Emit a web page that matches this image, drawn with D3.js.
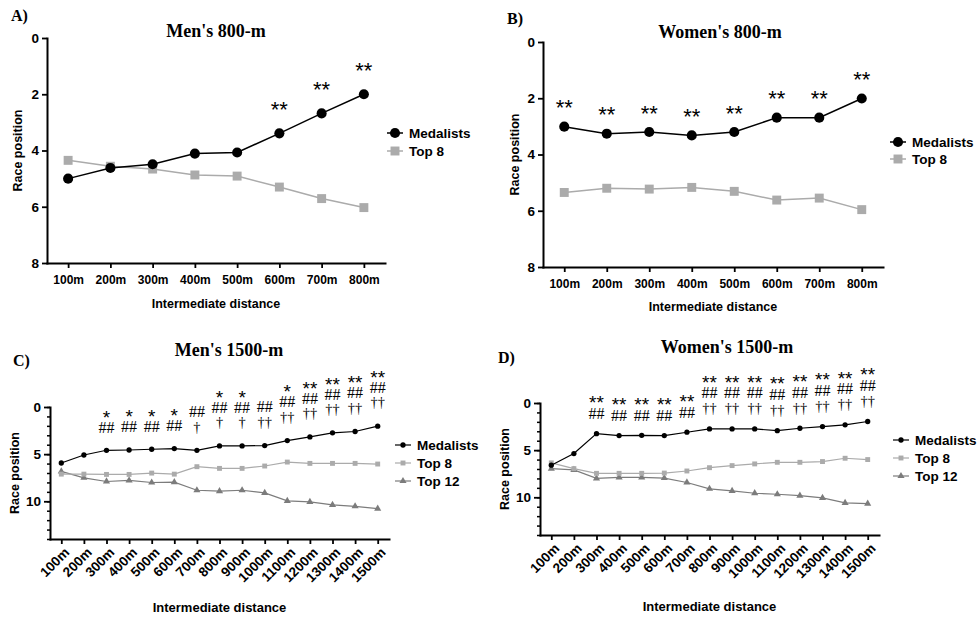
<!DOCTYPE html>
<html><head><meta charset="utf-8">
<script src="https://cdn.jsdelivr.net/npm/d3@7"></script>
<style>body{margin:0;background:#fff} svg{display:block}</style>
</head><body><svg id="c" width="980" height="620"></svg>
<script>
// ---------------- DATA ----------------
const dist800 = ["100m","200m","300m","400m","500m","600m","700m","800m"];
const dist1500 = ["100m","200m","300m","400m","500m","600m","700m","800m","900m","1000m","1100m","1200m","1300m","1400m","1500m"];
const seriesNames = ["Medalists","Top 8","Top 12"];

const men800Medal  = [5.00,4.62,4.49,4.11,4.07,3.39,2.68,2.00];
const men800Top8   = [4.35,4.56,4.66,4.87,4.91,5.30,5.71,6.03];
const women800Medal = [3.01,3.26,3.20,3.32,3.20,2.69,2.69,2.01];
const women800Top8  = [5.35,5.20,5.23,5.17,5.31,5.62,5.55,5.96];

const men1500Medal = [5.94,5.09,4.59,4.56,4.48,4.41,4.59,4.13,4.13,4.09,3.56,3.17,2.74,2.60,2.03];
const men1500Top8  = [7.12,7.12,7.15,7.15,7.01,7.12,6.33,6.51,6.51,6.26,5.84,5.98,5.98,5.98,6.05];
const men1500Top12 = [6.83,7.51,7.90,7.79,8.01,7.97,8.83,8.93,8.83,9.11,9.96,10.07,10.39,10.53,10.78];
const women1500Medal = [6.60,5.36,3.25,3.46,3.43,3.46,3.10,2.75,2.75,2.75,2.93,2.68,2.50,2.32,1.96];
const women1500Top8  = [6.35,6.96,7.46,7.46,7.46,7.43,7.21,6.86,6.64,6.46,6.29,6.29,6.21,5.86,6.00];
const women1500Top12 = [6.96,7.10,8.00,7.89,7.89,7.96,8.43,9.10,9.32,9.57,9.68,9.82,10.07,10.60,10.68];

const men800Stars   = ["","","","","","**","**","**"];
const women800Stars = ["**","**","**","**","**","**","**","**"];
const men1500Stars  = ["","","*","*","*","*","","*","*","","*","**","**","**","**"];
const men1500Hash   = ["","","##","##","##","##","##","##","##","##","##","##","##","##","##"];
const men1500Dagger = ["","","","","","","†","†","†","††","††","††","††","††","††"];
const women1500Stars  = ["","","**","**","**","**","**","**","**","**","**","**","**","**","**"];
const women1500Hash   = ["","","##","##","##","##","##","##","##","##","##","##","##","##","##"];
const women1500Dagger = ["","","","","","","","††","††","††","††","††","††","††","††"];

const ticks800Y = [0,2,4,6,8];
const ticks1500Y = [0,5,10];

// ---------------- DRAW ----------------
const svg = d3.select("#c");
const SANS = "'Liberation Sans', Arial, sans-serif";
const SERIF = "'Liberation Serif', 'Times New Roman', serif";
const BLACK = "#000", LIGHT = "#ababab", DARK = "#7c7c7c";

function panel(o){
  const g = svg.append("g");
  const x = d3.scalePoint().domain(o.cats).range([o.x0, o.x1]).padding(0.5);
  const y = d3.scaleLinear().domain([0, o.ymax]).range([o.y0, o.y1]);

  if (o.minor) {
    const m = g.append("g").attr("transform", `translate(${o.x0},0)`)
      .call(d3.axisLeft(y).tickValues(d3.range(0, o.ymax + 1)).tickSize(3).tickFormat(""));
    m.select(".domain").remove();
    m.selectAll("line").attr("stroke", "#000").attr("stroke-width", 1.5);
  }
  const ya = g.append("g").attr("transform", `translate(${o.x0},0)`)
    .call(d3.axisLeft(y).tickValues(o.yticks).tickSize(o.minor ? 6 : 5).tickSizeOuter(0).tickPadding(3));
  ya.select(".domain").attr("stroke-width", 2).attr("stroke-linecap", "square");
  ya.selectAll("line").attr("stroke-width", 1.8);
  ya.selectAll("text").attr("font-family", SANS).attr("font-weight", "bold").attr("font-size", 13.5).attr("fill", "#000");

  const xa = g.append("g").attr("transform", `translate(0,${o.y1})`)
    .call(d3.axisBottom(x).tickSize(5).tickSizeOuter(0).tickPadding(5));
  xa.select(".domain").attr("stroke-width", 2).attr("stroke-linecap", "square");
  xa.selectAll("line").attr("stroke-width", 1.8);
  xa.selectAll("text").attr("font-family", SANS).attr("font-weight", "bold").attr("font-size", o.xtickSize).attr("fill", "#000");
  if (o.rotate) {
    xa.selectAll("text").attr("text-anchor", "end").attr("dy", "0.35em").attr("y", 0).attr("x", 0)
      .attr("transform", "translate(5,11) rotate(-45)");
  } else {
    xa.selectAll("text").attr("dy", "0.95em");
  }

  g.append("text").attr("x", o.titleX).attr("y", o.titleY).attr("text-anchor", "middle")
    .attr("font-family", SERIF).attr("font-weight", "bold").attr("font-size", 18).text(o.title);
  g.append("text").attr("x", o.letterX).attr("y", o.letterY)
    .attr("font-family", SERIF).attr("font-weight", "bold").attr("font-size", 16).text(o.letter);
  g.append("text").attr("transform", `translate(${o.ylabX},${(o.y0 + o.y1) / 2}) rotate(-90)`)
    .attr("text-anchor", "middle").attr("font-family", SANS).attr("font-weight", "bold").attr("font-size", 12.5)
    .text("Race position");
  g.append("text").attr("x", (o.x0 + o.x1) / 2).attr("y", o.xlabY).attr("text-anchor", "middle")
    .attr("font-family", SANS).attr("font-weight", "bold").attr("font-size", o.xlabSize)
    .text("Intermediate distance");

  const styles = [
    {color: BLACK, sym: d3.symbolCircle},
    {color: LIGHT, sym: d3.symbolSquare},
    {color: DARK, sym: d3.symbolTriangle}
  ];
  const line = d3.line().x((d, i) => x(o.cats[i])).y(d => y(d));
  for (let s = o.series.length - 1; s >= 0; s--) {
    const vals = o.series[s], st = styles[s];
    g.append("path").datum(vals).attr("d", line).attr("fill", "none")
      .attr("stroke", st.color).attr("stroke-width", o.lw);
    g.selectAll(null).data(vals).enter().append("path")
      .attr("transform", (d, i) => `translate(${x(o.cats[i])},${y(d)})`)
      .attr("d", d3.symbol().type(st.sym).size(o.symSize[s]))
      .attr("fill", st.color);
  }

  o.series.forEach((vals, s) => {
    const st = styles[s];
    const ly = o.legY + s * o.legGap;
    g.append("line").attr("x1", o.legX - 8).attr("x2", o.legX + 8).attr("y1", ly).attr("y2", ly)
      .attr("stroke", st.color).attr("stroke-width", o.lw);
    g.append("path").attr("transform", `translate(${o.legX},${ly})`)
      .attr("d", d3.symbol().type(st.sym).size(o.symSize[s])).attr("fill", st.color);
    g.append("text").attr("x", o.legX + 14).attr("y", ly).attr("dy", "0.36em")
      .attr("font-family", SANS).attr("font-weight", "bold").attr("font-size", 13.5).text(seriesNames[s]);
  });

  const rowsDef = [
    {arr: o.dagger, font: SERIF, size: o.annSize, k: 0.30},
    {arr: o.hash, font: SERIF, size: o.annSize + 1.5, k: 0.33},
    {arr: o.stars, font: SANS, size: o.starSize, k: 0.62}
  ];
  o.cats.forEach((c, i) => {
    let cy = y(o.series[0][i]) - o.annOff;
    rowsDef.forEach(r => {
      if (!r.arr) return;
      const t = r.arr[i];
      if (!t) return;
      g.append("text").attr("x", x(c)).attr("y", cy + r.k * r.size).attr("text-anchor", "middle")
        .attr("font-family", r.font).attr("font-size", r.size).attr("fill", "#000").text(t);
      cy -= o.annGap;
    });
  });
}

panel({cats: dist800, x0: 47, x1: 385, y0: 38, y1: 263, ymax: 8, yticks: ticks800Y, minor: false, rotate: false,
  xtickSize: 12, xlabSize: 12.5,
  series: [men800Medal, men800Top8], stars: men800Stars, title: "Men's 800-m", titleX: 216, titleY: 37,
  letter: "A)", letterX: 11, letterY: 21, ylabX: 22, xlabY: 308, legX: 395, legY: 133, legGap: 18,
  lw: 1.5, symSize: [80, 80], annOff: 30, annGap: 16, annSize: 15, starSize: 22});

panel({cats: dist800, x0: 543, x1: 883, y0: 42, y1: 267, ymax: 8, yticks: ticks800Y, minor: false, rotate: false,
  xtickSize: 12, xlabSize: 12.5,
  series: [women800Medal, women800Top8], stars: women800Stars, title: "Women's 800-m", titleX: 720, titleY: 38,
  letter: "B)", letterX: 507, letterY: 24, ylabX: 519, xlabY: 311, legX: 898, legY: 142, legGap: 17,
  lw: 1.5, symSize: [80, 80], annOff: 25, annGap: 16, annSize: 15, starSize: 22});

panel({cats: dist1500, x0: 50, x1: 389, y0: 407, y1: 539, ymax: 14, yticks: ticks1500Y, minor: true, rotate: true,
  xtickSize: 13.5, xlabSize: 13,
  series: [men1500Medal, men1500Top8, men1500Top12], stars: men1500Stars, hash: men1500Hash, dagger: men1500Dagger,
  title: "Men's 1500-m", titleX: 229, titleY: 356, letter: "C)", letterX: 13, letterY: 366, ylabX: 19, xlabY: 612,
  legX: 403, legY: 445, legGap: 18, lw: 1.2, symSize: [22, 24, 22], annOff: 23, annGap: 15.5, annSize: 14.5, starSize: 19});

panel({cats: dist1500, x0: 540, x1: 879, y0: 403, y1: 535, ymax: 14, yticks: ticks1500Y, minor: true, rotate: true,
  xtickSize: 13.5, xlabSize: 13,
  series: [women1500Medal, women1500Top8, women1500Top12], stars: women1500Stars, hash: women1500Hash, dagger: women1500Dagger,
  title: "Women's 1500-m", titleX: 727, titleY: 353, letter: "D)", letterX: 498, letterY: 363, ylabX: 509, xlabY: 611,
  legX: 901, legY: 440, legGap: 18, lw: 1.2, symSize: [22, 24, 22], annOff: 20, annGap: 16, annSize: 14.5, starSize: 19});
</script>
</body></html>
